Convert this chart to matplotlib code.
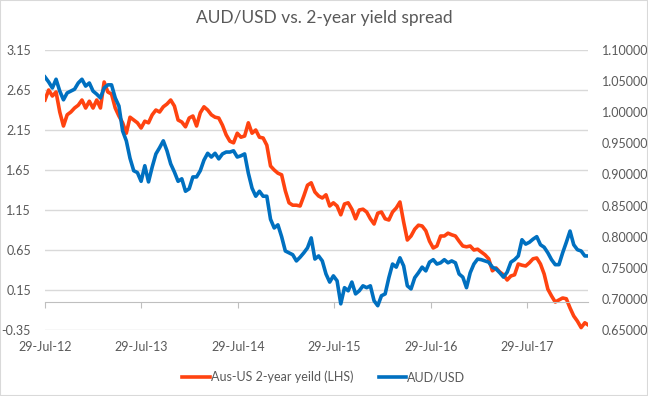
import numpy as np
import pandas as pd
import matplotlib
matplotlib.use('Agg')
import matplotlib.pyplot as plt
import matplotlib.dates as mdates
from matplotlib.patches import Rectangle

plt.rcParams['font.family'] = ['Lato', 'DejaVu Sans']

# fortnightly readings, starting 29-Jul-2012
spread = [2.525, 2.65, 2.575, 2.625, 2.375, 2.20, 2.34, 2.375, 2.425, 2.46,
          2.525, 2.425, 2.51, 2.425, 2.525, 2.425, 2.75, 2.625, 2.60, 2.425,
          2.325, 2.24, 2.11, 2.31, 2.275, 2.24, 2.175, 2.26, 2.24, 2.34,
          2.40, 2.375, 2.44, 2.475, 2.525, 2.45, 2.275, 2.25, 2.19, 2.30,
          2.325, 2.20, 2.365, 2.44, 2.40, 2.34, 2.31, 2.30, 2.21, 2.09,
          2.01, 1.99, 2.11, 2.06, 2.075, 2.24, 2.11, 2.15, 2.06, 2.05,
          1.96, 1.70, 1.65, 1.61, 1.59, 1.39, 1.24, 1.21, 1.21, 1.20,
          1.325, 1.46, 1.49, 1.375, 1.325, 1.30, 1.34, 1.20, 1.24, 1.20,
          1.09, 1.225, 1.24, 1.16, 1.04, 1.15, 1.16, 1.125, 1.04, 0.975,
          1.11, 1.125, 1.04, 1.025, 1.125, 1.175, 1.25, 1.00, 0.775, 0.825,
          0.91, 0.96, 0.95, 0.89, 0.76, 0.675, 0.70, 0.825, 0.825, 0.86,
          0.84, 0.825, 0.76, 0.70, 0.69, 0.70, 0.65, 0.66, 0.625, 0.59,
          0.54, 0.39, 0.425, 0.375, 0.34, 0.275, 0.325, 0.34, 0.475, 0.46,
          0.45, 0.49, 0.54, 0.55, 0.475, 0.35, 0.16, 0.075, 0.0, 0.025,
          0.05, 0.04, -0.075, -0.175, -0.24, -0.32, -0.26, -0.29]

audusd = [1.0566, 1.0486, 1.039, 1.053, 1.034, 1.020, 1.031, 1.034, 1.037, 1.047,
          1.053, 1.042, 1.047, 1.034, 1.029, 1.023, 1.039, 1.044, 1.044, 1.023,
          1.010, 0.970, 0.954, 0.926, 0.906, 0.903, 0.889, 0.914, 0.888, 0.912,
          0.933, 0.943, 0.954, 0.938, 0.917, 0.904, 0.889, 0.893, 0.873, 0.877,
          0.896, 0.896, 0.906, 0.923, 0.934, 0.928, 0.934, 0.925, 0.933, 0.936,
          0.936, 0.938, 0.928, 0.930, 0.933, 0.902, 0.878, 0.865, 0.873, 0.865,
          0.865, 0.828, 0.814, 0.819, 0.800, 0.777, 0.774, 0.771, 0.761, 0.767,
          0.774, 0.782, 0.798, 0.764, 0.769, 0.761, 0.740, 0.727, 0.737, 0.729,
          0.692, 0.718, 0.713, 0.727, 0.708, 0.713, 0.721, 0.718, 0.721, 0.697,
          0.689, 0.705, 0.708, 0.734, 0.756, 0.751, 0.766, 0.753, 0.721, 0.716,
          0.734, 0.742, 0.751, 0.745, 0.759, 0.763, 0.756, 0.758, 0.763, 0.758,
          0.761, 0.758, 0.740, 0.735, 0.718, 0.742, 0.756, 0.764, 0.763, 0.761,
          0.759, 0.751, 0.748, 0.742, 0.735, 0.743, 0.759, 0.763, 0.769, 0.795,
          0.788, 0.791, 0.796, 0.800, 0.787, 0.783, 0.774, 0.763, 0.755, 0.755,
          0.774, 0.791, 0.809, 0.787, 0.779, 0.777, 0.769, 0.769]

dates = pd.date_range('2012-07-29', periods=len(spread), freq='14D')
tick_dates = [pd.Timestamp(f'{y}-07-29') for y in range(2012, 2018)]

grey = '#595959'
orange = '#FF4310'
blue = '#0070C0'

fig = plt.figure(figsize=(6.48, 3.96), dpi=100)
fig.patches.append(Rectangle((0, 0), 1, 1, transform=fig.transFigure,
                             fill=False, edgecolor='#d9d9d9', linewidth=1.5))
ax = fig.add_axes([0.0694, 0.1667, 0.838, 0.707])
ax2 = ax.twinx()

ax.plot(dates, spread, color=orange, lw=2.6, label='Aus-US 2-year yeild (LHS)')
ax2.plot(dates, audusd, color=blue, lw=2.6, label='AUD/USD')

ax.set_ylim(-0.35, 3.15)
ax.set_yticks(np.round(np.arange(-0.35, 3.16, 0.5), 2))
ax.yaxis.set_major_formatter(plt.FormatStrFormatter('%.2f'))
ax2.set_ylim(0.65, 1.10)
ax2.set_yticks(np.round(np.arange(0.65, 1.101, 0.05), 2))
ax2.yaxis.set_major_formatter(plt.FormatStrFormatter('%.5f'))

ax.set_xlim(dates[0], pd.Timestamp('2018-03-16'))
ax.set_xticks(tick_dates)
ax.xaxis.set_major_formatter(mdates.DateFormatter('%d-%b-%y'))

ax.grid(axis='y', color='#d9d9d9', lw=1)
ax.set_axisbelow(True)
for a in (ax, ax2):
    for s in ('top', 'left', 'right'):
        a.spines[s].set_visible(False)
ax2.spines['bottom'].set_visible(False)
ax.spines['bottom'].set_position(('data', 0))
ax.spines['bottom'].set_color('#bfbfbf')

ax.tick_params(axis='y', length=0, labelsize=9, labelcolor=grey, pad=10)
ax2.tick_params(axis='y', length=0, labelsize=9, labelcolor=grey, pad=10)
ax.tick_params(axis='x', direction='out', length=4, color='#bfbfbf',
               labelsize=9, labelcolor=grey, pad=24)

fig.suptitle('AUD/USD vs. 2-year yield spread', x=0.5, y=0.975,
             fontsize=12.5, color=grey)

h1, l1 = ax.get_legend_handles_labels()
h2, l2 = ax2.get_legend_handles_labels()
fig.legend(h1 + h2, l1 + l2, loc='center', bbox_to_anchor=(0.5, 0.048),
           ncol=2, frameon=False, fontsize=9, labelcolor=grey,
           handlelength=2.2, handletextpad=0.1, columnspacing=2.0)

fig.savefig('out.png', dpi=100)
